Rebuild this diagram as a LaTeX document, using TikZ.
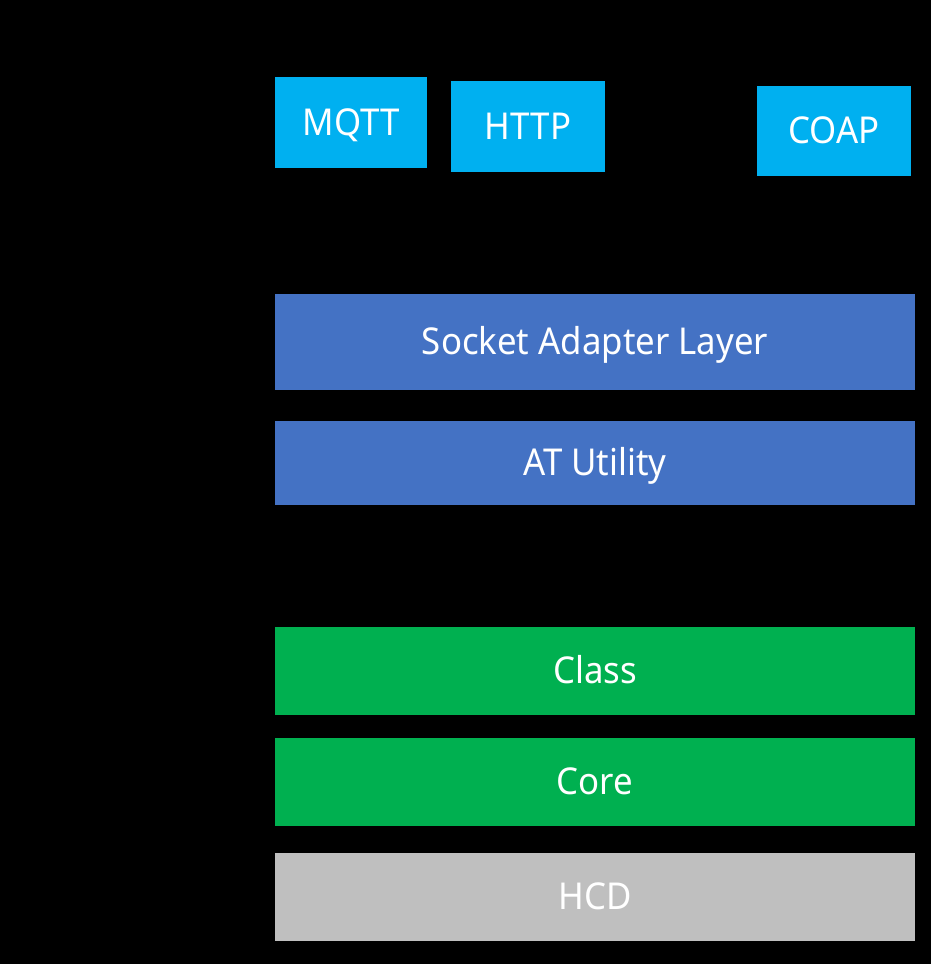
\documentclass[tikz,border=0pt]{standalone}
\usepackage{fontspec}
\setmainfont{Noto Sans}[FakeStretch=0.94]
\definecolor{protoc}{HTML}{00B0F0}
\definecolor{netc}{HTML}{4472C4}
\definecolor{usbc}{HTML}{00B050}
\definecolor{hcdc}{HTML}{BFBFBF}
\begin{document}
\begin{tikzpicture}[x=1pt,y=-1pt,
  box/.style={rectangle, inner sep=0pt, text=white, text height=25pt, text depth=0pt, font=\fontsize{37}{42}\selectfont},
]
\fill[black] (0,0) rectangle (931,964);
\useasboundingbox (0,0) rectangle (931,964);
\node[box, fill=protoc, minimum width=152pt, minimum height=91pt] (mqtt) at (351,122.5) {MQTT};
\node[box, fill=protoc, minimum width=154pt, minimum height=91pt] (http) at (528,126.5) {HTTP};
\node[box, fill=protoc, minimum width=154pt, minimum height=90pt] (coap) at (834,131) {COAP};
\node[box, fill=netc, minimum width=640pt, minimum height=96pt] (sal) at (595,342) {Socket Adapter Layer};
\node[box, fill=netc, minimum width=640pt, minimum height=84pt] (at) at (595,463) {AT Utility};
\node[box, fill=usbc, minimum width=640pt, minimum height=88pt] (class) at (595,671) {Class};
\node[box, fill=usbc, minimum width=640pt, minimum height=88pt] (core) at (595,782) {Core};
\node[box, fill=hcdc, minimum width=640pt, minimum height=88pt] (hcd) at (595,897) {HCD};
\end{tikzpicture}
\end{document}
